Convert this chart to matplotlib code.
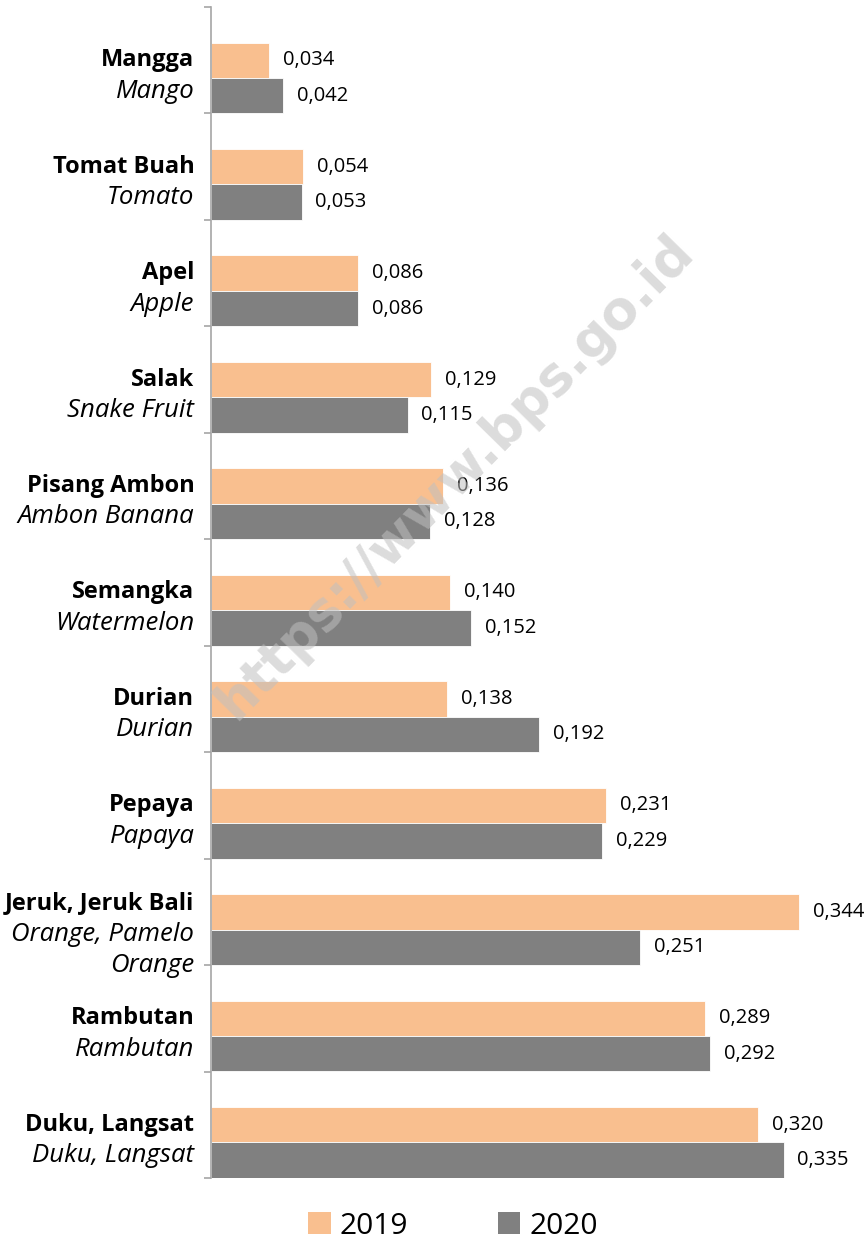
import numpy as np
import matplotlib.pyplot as plt
from matplotlib.patches import Patch

plt.rcParams['font.family'] = ['Open Sans', 'DejaVu Sans']

# Data
nama = ['Mangga', 'Tomat Buah', 'Apel', 'Salak', 'Pisang Ambon', 'Semangka',
        'Durian', 'Pepaya', 'Jeruk, Jeruk Bali', 'Rambutan', 'Duku, Langsat']
nama_en = [['Mango'], ['Tomato'], ['Apple'], ['Snake Fruit'], ['Ambon Banana'],
           ['Watermelon'], ['Durian'], ['Papaya'], ['Orange, Pamelo', 'Orange'],
           ['Rambutan'], ['Duku, Langsat']]
nilai_2019 = [0.034, 0.054, 0.086, 0.129, 0.136, 0.140, 0.138, 0.231, 0.344, 0.289, 0.320]
nilai_2020 = [0.042, 0.053, 0.086, 0.115, 0.128, 0.152, 0.192, 0.229, 0.251, 0.292, 0.335]
tahun = ['2019', '2020']

warna = ['#F9BF8F', '#808080']

fig = plt.figure(figsize=(8.68, 12.44), dpi=100)
ax = fig.add_axes([211 / 868, 1 - 1178 / 1244, 1 - 211 / 868, (1178 - 7) / 1244])

n = len(nama)
pos = np.arange(n)
h = 0.333

# Batang
ax.barh(pos + 0.5, nilai_2019, height=h, color=warna[0], edgecolor='white', linewidth=0.6)
ax.barh(pos + 0.5 + h, nilai_2020, height=h, color=warna[1], edgecolor='white', linewidth=0.6)

def fmt(v):
    return f'{v:.3f}'.replace('.', ',')

for i in range(n):
    ax.annotate(fmt(nilai_2019[i]), (nilai_2019[i], i + 0.5), xytext=(10, 0),
                textcoords='offset points', ha='left', va='center', fontsize=14.5,
                annotation_clip=False)
    ax.annotate(fmt(nilai_2020[i]), (nilai_2020[i], i + 0.5 + h), xytext=(10, 0),
                textcoords='offset points', ha='left', va='center', fontsize=14.5,
                annotation_clip=False)

# Label kategori
for i in range(n):
    baris = [nama[i]] + nama_en[i]
    y0 = i + 0.5 - 0.08 * (len(baris) - 2)
    for k, t in enumerate(baris):
        if k == 0:
            ax.annotate(t, (0, y0), xycoords=('axes fraction', 'data'),
                        xytext=(-12, 0), textcoords='offset points', ha='right', va='center',
                        fontsize=17, fontweight='bold', annotation_clip=False)
        else:
            ax.annotate(t, (0, y0 + 0.29 * k), xycoords=('axes fraction', 'data'),
                        xytext=(-12, 0), textcoords='offset points', ha='right', va='center',
                        fontsize=18.5, fontstyle='italic', annotation_clip=False)

ax.set_ylim(n, 0)
ax.set_xlim(0, (868 - 211) / 1709)
ax.set_yticks(np.arange(n + 1))
ax.set_yticklabels([])
ax.set_xticks([])
for s in ['top', 'right', 'bottom']:
    ax.spines[s].set_visible(False)
ax.spines['left'].set_color('#A6A6A6')
ax.spines['left'].set_linewidth(1.2)
ax.tick_params(axis='y', direction='out', length=5, color='#A6A6A6', width=1.2)

# Watermark
fig.text(0.524, 0.6166, 'https://www.bps.go.id', rotation=45.5, fontsize=38,
         fontweight='bold', color='#C0C0C0', alpha=0.55, ha='center', va='center',
         family='DejaVu Sans', zorder=10)

handles = [Patch(facecolor=c) for c in warna]
fig.legend(handles, tahun, loc='center', bbox_to_anchor=(0.522, 1 - 1226 / 1244), ncol=2,
           frameon=False, fontsize=21.5, handlelength=0.75, handleheight=0.75,
           handletextpad=0.3, columnspacing=3.0)

fig.savefig('out.png', dpi=100)
